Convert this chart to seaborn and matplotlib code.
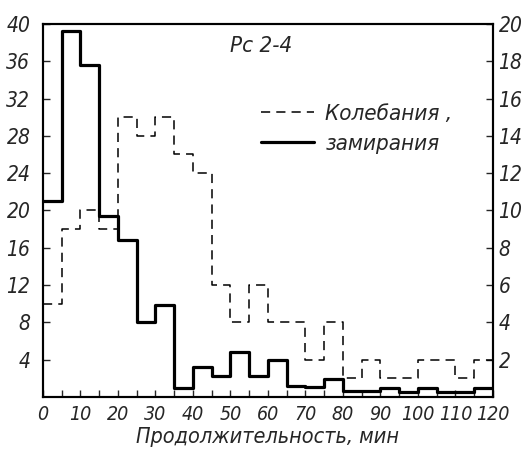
import numpy as np
import pandas as pd
import matplotlib
matplotlib.use("Agg")
import matplotlib.pyplot as plt
import seaborn as sns
from matplotlib.lines import Line2D

sns.set_style("ticks")
plt.rcParams['font.family'] = ['DejaVu Sans']
plt.rcParams['font.stretch'] = 'condensed'

bin_edges = list(range(0, 125, 5))
freezes = [21, 39.3, 35.6, 19.4, 16.8, 8.0, 9.9, 0.9, 3.2, 2.2, 4.8, 2.2,
           4.0, 1.2, 1.1, 1.9, 0.6, 0.6, 0.9, 0.5, 0.9, 0.5, 0.5, 0.9]
oscillations = [5, 9, 10, 9, 15, 14, 15, 13, 12, 6, 4, 6,
                4, 4, 2, 4, 1, 2, 1, 1, 2, 2, 1, 2]
title_text = "Рс 2-4"
legend_labels = ["Колебания ,", "замирания"]
xlabel = "Продолжительность, мин"

centers = [(a + b) / 2 for a, b in zip(bin_edges[:-1], bin_edges[1:])]
df = pd.DataFrame({"x": centers, "freeze": freezes, "osc": oscillations})

fig = plt.figure(figsize=(5.3, 4.53), dpi=100)
ax = fig.add_axes([0.081, 0.124, 0.849, 0.823])
ax2 = ax.twinx()

sns.histplot(data=df, x="x", weights="freeze", bins=bin_edges, element="step",
             fill=False, color="black", linewidth=2.3, ax=ax)
sns.histplot(data=df, x="x", weights="osc", bins=bin_edges, element="step",
             fill=False, color="black", linewidth=1.1, linestyle=(0, (6, 4)), ax=ax2)

fs = 15
ax.set_xlim(0, 120)
ax.set_ylim(0, 40)
ax2.set_ylim(0, 20)
ax.set_xticks(range(0, 121, 10))
ax.set_xticks(range(0, 121, 5), minor=True)
ax.set_yticks(range(4, 41, 4))
ax2.set_yticks(range(2, 21, 2))
tk = dict(fontsize=fs, style="italic", stretch="condensed")
ax.set_xticklabels([str(v) for v in range(0, 121, 10)], fontsize=14, style="italic",
                   stretch="condensed")
ax.set_yticklabels([str(v) for v in range(4, 41, 4)], **tk)
ax2.set_yticklabels([str(v) for v in range(2, 21, 2)], **tk)
ax.tick_params(axis="y", which="both", direction="in", length=5, width=1.0, pad=9)
ax.tick_params(axis="x", which="both", direction="in", length=5, width=1.0, pad=6)
ax2.tick_params(axis="y", direction="in", length=5, width=1.0, pad=4)
ax.set_ylabel("")
ax2.set_ylabel("")
ax.set_xlabel(xlabel, fontsize=15.5, style="italic", stretch="condensed", labelpad=2)

for a in (ax, ax2):
    for s in a.spines.values():
        s.set_visible(True)
        s.set_linewidth(1.5)
        s.set_color("black")

fig.text(230 / 530, 1 - 46 / 453, title_text, fontsize=16, style="italic",
         stretch="condensed", va="center")

handles = [Line2D([0], [0], color="black", lw=1.1, ls=(0, (6, 4))),
           Line2D([0], [0], color="black", lw=2.3)]
ax.legend(handles, legend_labels, loc="upper left", bbox_to_anchor=(0.44, 0.84),
          frameon=False, prop={"style": "italic", "size": 16, "stretch": "condensed"},
          handlelength=2.4, handletextpad=0.5, labelspacing=0.45)

fig.savefig("out.png", dpi=100)
